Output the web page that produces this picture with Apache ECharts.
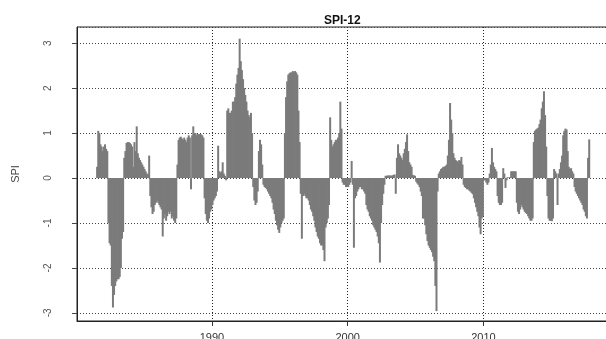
<!DOCTYPE html>
<html>
<head>
<meta charset="utf-8">
<script src="https://cdn.jsdelivr.net/npm/echarts@6/dist/echarts.min.js"></script>
<style>
html, body { margin: 0; padding: 0; background: #fff; }
#container { width: 606px; height: 339px; }
</style>
</head>
<body>
<div id="container"></div>
<script>
// monthly SPI-12, first value = July 1981
let startYear = 1981.5;

let spi1980s = [
    0.25, 1.05, 1.0, 0.75, 0.7, 0.6,
    0.7, 0.75, 0.65, 0.6, -1.0, -1.45, -1.5, -2.4, -2.88, -2.6, -2.4, -2.3,
    -2.25, -2.25, -2.2, -2.0, -1.35, -1.2, 0.45, 0.6, 0.78, 0.8, 0.8, 0.78,
    0.75, 0.7, 0.25, 0.8, 0.6, 1.15, 0.55, 0.45, 0.4, 0.35, 0.3, 0.25,
    0.2, 0.15, 0.1, 0.08, 0.5, -0.4, -0.65, -0.8, -0.75, -0.6, -0.55, -0.5,
    -0.55, -0.6, -0.65, -0.7, -1.3, -0.9, -0.8, -0.95, -0.85, -0.75, -0.8, -0.75,
    -0.9, -0.85, -0.95, -1.0, -0.9, 0.3, 0.85, 0.9, 0.92, 0.88, 0.85, 0.9,
    0.85, 0.8, 0.9, 0.95, 0.9, -0.25, 0.95, 1.15, 1.0, 1.0, 0.95, 0.98,
    0.97, 0.98, 0.97, 0.95, 0.9, -0.45, -0.8, -0.95, -1.0, -0.9, -0.75, -0.7
];
let spi1990s = [
    -0.6, -0.5, -0.45, -0.4, -0.3, 0.72, 0.15, 0.12, 0.15, 0.35, 0.1, 0.05,
    -0.05, 1.5, 1.55, 1.45, 1.45, 1.5, 1.7, 1.7, 1.8, 2.1, 2.3, 2.45,
    3.1, 2.6, 2.4, 2.2, 2.0, 1.85, 1.7, 1.5, 1.4, 1.35, 1.45, 1.0,
    -0.2, -0.5, -0.6, -0.55, -0.3, 0.6, 0.85, 0.75, 0.3, -0.15, -0.2, -0.22,
    -0.25, -0.3, -0.35, -0.4, -0.45, -0.55, -0.7, -0.8, -0.95, -1.05, -1.15, -1.22,
    -1.1, -1.0, -0.95, -0.9, 1.0, 1.8, 2.15, 2.3, 2.33, 2.35, 2.35, 2.38,
    2.35, 2.38, 2.35, 2.3, 1.5, 0.8, -0.35, -1.35, -0.4, -0.35, -0.4, -0.45,
    -0.45, -0.5, -0.6, -0.7, -0.75, -0.85, -0.95, -1.1, -1.2, -1.3, -1.35, -1.45,
    -1.5, -1.5, -1.6, -1.85, -1.1, -1.0, -0.9, -0.6, 1.35, 0.85, 0.7, 0.75,
    0.8, 0.85, 0.85, 0.9, 1.0, 1.7, 1.1, -0.1, -0.15, -0.15, -0.2, -0.2
];
let spi2000s = [
    -0.2, -0.15, -0.1, 0.38, -0.15, -1.55, -0.45, -0.4, -0.3, -0.25, -0.2, -0.2,
    -0.25, -0.25, -0.3, -0.35, -0.6, -0.7, -0.75, -0.85, -0.9, -0.95, -1.05, -1.1,
    -1.15, -1.2, -1.3, -1.45, -1.88, -1.0, -0.6, -0.35, -0.15, 0.05, 0.05, 0.06,
    0.05, 0.06, 0.05, 0.06, 0.07, 0.08, -0.35, 0.45, 0.75, 0.55, 0.5, 0.45,
    0.4, 0.55, 0.65, 0.8, 0.97, 0.6, 0.35, 0.3, 0.25, 0.07, 0.06, 0.05,
    -0.08, -0.12, -0.15, -0.2, -0.3, -0.4, -0.9, -0.9, -1.05, -1.25, -1.4, -1.5,
    -1.55, -1.6, -1.65, -1.75, -1.85, -2.4, -2.96, -0.3, 0.1, 0.15, 0.2, 0.22,
    0.25, 0.25, 0.27, 0.3, 0.5, 0.85, 1.67, 1.3, 1.0, 0.55, 0.45, 0.4,
    0.38, 0.35, 0.4, 0.38, 0.47, 0.3, -0.15, -0.2, -0.22, -0.25, -0.25, -0.28,
    -0.3, -0.33, -0.36, -0.45, -0.55, -0.65, -0.75, -0.85, -1.1, -1.25, -0.9, -0.85
];
let spi2010s = [
    -0.05, -0.05, -0.1, -0.15, -0.1, 0.1, 0.3, 0.67, 0.35, 0.25, 0.2, 0.15,
    -0.4, -0.55, -0.6, -0.6, -0.55, 0.22, 0.1, -0.22, -0.05, 0.02, 0.0, 0.02,
    0.15, 0.15, 0.15, 0.15, 0.15, -0.55, -0.75, -0.8, -0.7, -0.6, -0.65, -0.7,
    -0.75, -0.78, -0.8, -0.85, -0.9, -0.95, -0.95, -0.9, 0.8, 1.05, 1.08, 1.1,
    1.12, 1.2, 1.3, 1.55, 1.7, 1.93, 1.4, 0.7, -0.4, -0.9, -0.95, -0.95,
    -0.96, -0.9, 0.2, 0.15, 0.1, -0.6, 0.1, 0.2, 0.35, 0.5, 0.95, 1.05,
    1.1, 1.08, 0.6, 0.25, 0.2, 0.22, 0.15, 0.1, -0.2, -0.3, -0.35, -0.4,
    -0.45, -0.5, -0.55, -0.6, -0.7, -0.75, -0.85, -0.9, 0.45, 0.86
];

let spi = spi1980s.concat(spi1990s, spi2000s, spi2010s);
let points = [];
for (let i = 0; i < spi.length; i++) {
    points.push([startYear + i / 12 + 1 / 24, spi[i]]);
}

function wholeOnly(v) {
    return Math.abs(v - Math.round(v)) < 1e-6 ? String(Math.round(v)) : '';
}

let dom = document.getElementById('container');
let myChart = echarts.init(dom);

let option = {
    animation: false,
    title: {
        text: 'SPI-12',
        left: 319,
        top: 10,
        textStyle: { fontFamily: 'Liberation Sans', fontSize: 12, fontWeight: 'bold', color: '#111' }
    },
    grid: {
        left: 77, top: 27, width: 535, height: 294,
        outerBoundsMode: 'none',
        containLabel: false,
        show: true, borderColor: '#222', borderWidth: 1
    },
    xAxis: {
        type: 'value',
        min: 1980.06,
        max: 2019.47,
        axisLine: { show: true, onZero: false, lineStyle: { color: '#222' } },
        axisTick: { show: true, length: 5, lineStyle: { color: '#333' } },
        axisLabel: {
            formatter: wholeOnly, margin: 11,
            fontFamily: 'Liberation Sans', fontSize: 11, color: '#333',
            showMinLabel: false, showMaxLabel: false
        },
        splitLine: { show: true, lineStyle: { color: '#222', type: [1, 2], width: 1 } }
    },
    yAxis: {
        type: 'value',
        min: -3.18,
        max: 3.36,
        name: 'SPI',
        nameLocation: 'middle',
        nameGap: 56,
        nameTextStyle: { fontFamily: 'Liberation Sans', fontSize: 11, color: '#444' },
        axisLine: { show: true, lineStyle: { color: '#222' } },
        axisTick: { show: true, length: 5, lineStyle: { color: '#444' } },
        axisLabel: {
            formatter: wholeOnly, rotate: 90, margin: 24,
            fontFamily: 'Liberation Sans', fontSize: 10, color: '#555',
            showMinLabel: false, showMaxLabel: false
        },
        splitLine: { show: true, lineStyle: { color: '#444', type: [1, 2], width: 1 } }
    },
    series: [{
        type: 'bar',
        data: points,
        barWidth: 2,
        itemStyle: { color: '#7b7b7b' },
        silent: true
    }]
};

if (option && typeof option === 'object') {
    myChart.setOption(option, true);
}
</script>
</body>
</html>
